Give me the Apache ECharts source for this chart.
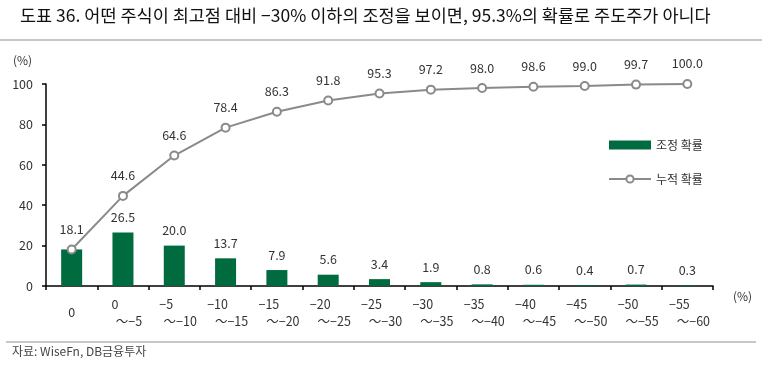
<!DOCTYPE html>
<html><head><meta charset="utf-8">
<script src="https://cdn.jsdelivr.net/npm/echarts@6/dist/echarts.min.js"></script>
<style>html,body{margin:0;padding:0;background:#fff}#c{width:773px;height:367px}</style>
</head><body><div id="c"></div>
<script>
const titleText = '도표 36. 어떤 주식이 최고점 대비 −30% 이하의 조정을 보이면, 95.3%의 확률로 주도주가 아니다';
const sourceText = '자료: WiseFn, DB금융투자';
const catTop = ['0', '0', '−5', '−10', '−15', '−20', '−25', '−30', '−35', '−40', '−45', '−50', '−55'];
const catBottom = ['', '～−5', '～−10', '～−15', '～−20', '～−25', '～−30', '～−35', '～−40', '～−45', '～−50', '～−55', '～−60'];
const barName = '조정 확률';
const lineName = '누적 확률';
const barValues = [18.1, 26.5, 20.0, 13.7, 7.9, 5.6, 3.4, 1.9, 0.8, 0.6, 0.4, 0.7, 0.3];
const lineValues = [18.1, 44.6, 64.6, 78.4, 86.3, 91.8, 95.3, 97.2, 98.0, 98.6, 99.0, 99.7, 100.0];
const yTicks = [0, 20, 40, 60, 80, 100];

const FONT = '"Noto Sans CJK KR", "Noto Sans", sans-serif';
const TXT = '#333';
const cats = catTop.map((t, i) => i);

const chart = echarts.init(document.getElementById('c'), null, {renderer: 'canvas'});
chart.setOption({
  animation: false,
  textStyle: {fontFamily: FONT},
  grid: {left: 46, right: 60, top: 84, bottom: 81, containLabel: false},
  legend: {
    orient: 'vertical', left: 603, top: 134, itemGap: 22,
    itemWidth: 42, itemHeight: 9,
    textStyle: {fontSize: 12, color: TXT, fontFamily: FONT},
    data: [
      {name: barName, icon: 'rect'},
      {name: lineName}
    ]
  },
  xAxis: {
    type: 'category', data: cats, boundaryGap: true,
    axisLine: {lineStyle: {color: '#000', width: 1.5}},
    axisTick: {show: true, alignWithLabel: false, length: 4, inside: false, lineStyle: {color: '#000', width: 1.5}},
    axisLabel: {
      interval: 0, margin: 10, color: TXT, fontSize: 12.5, fontFamily: FONT, lineHeight: 17,
      formatter: function (v, i) {
        if (i === 0) return '{z|' + catTop[0] + '}';
        return '{a|' + catTop[i] + '}{s|}\n{s2|}{b|' + catBottom[i] + '}';
      },
      rich: {
        z: {fontSize: 12.5, color: TXT, padding: [16, 0, 0, 0]},
        a: {fontSize: 12.5, color: TXT},
        b: {fontSize: 12.5, color: TXT},
        s: {width: 16},
        s2: {width: 12}
      }
    }
  },
  yAxis: {
    type: 'value', min: 0, max: 100, interval: 20,
    axisLine: {show: true, lineStyle: {color: '#000', width: 1.5}},
    axisTick: {show: true, length: 4, lineStyle: {color: '#000', width: 1.5}},
    splitLine: {show: false},
    axisLabel: {color: TXT, fontSize: 12.5, margin: 13, fontFamily: FONT,
      formatter: v => yTicks.includes(v) ? String(v) : ''}
  },
  series: [
    {
      name: barName, type: 'bar', data: barValues, barWidth: 21, barGap: '-100%',
      itemStyle: {color: '#006B3F'},
      label: {show: true, position: 'top', distance: 9, color: TXT, fontSize: 12.5, fontFamily: FONT,
        formatter: p => p.dataIndex === 0 ? '' : p.value.toFixed(1)}
    },
    {
      name: lineName, type: 'line', data: lineValues, symbol: 'circle', symbolSize: 8,
      lineStyle: {color: '#8a8a8a', width: 2},
      itemStyle: {color: '#fff', borderColor: '#8a8a8a', borderWidth: 2},
      label: {show: true, position: 'top', distance: 9, color: TXT, fontSize: 12.5, fontFamily: FONT,
        formatter: p => p.value.toFixed(1)}
    }
  ],
  graphic: [
    {type: 'text', left: 20, top: 7, style: {text: titleText, font: '17.5px ' + FONT, fill: '#111'}},
    {type: 'line', shape: {x1: 0, y1: 40, x2: 762, y2: 40}, style: {stroke: '#c8c8c8', lineWidth: 2}},
    {type: 'text', left: 13, top: 54, style: {text: '(%)', font: '12px ' + FONT, fill: TXT}},
    {type: 'text', left: 733, top: 290, style: {text: '(%)', font: '12px ' + FONT, fill: TXT}},
    {type: 'line', shape: {x1: 6, y1: 342, x2: 756, y2: 342}, style: {stroke: '#c8c8c8', lineWidth: 2}},
    {type: 'text', left: 12, top: 345, style: {text: sourceText, font: '12px ' + FONT, fill: '#444'}}
  ]
});
</script></body></html>
